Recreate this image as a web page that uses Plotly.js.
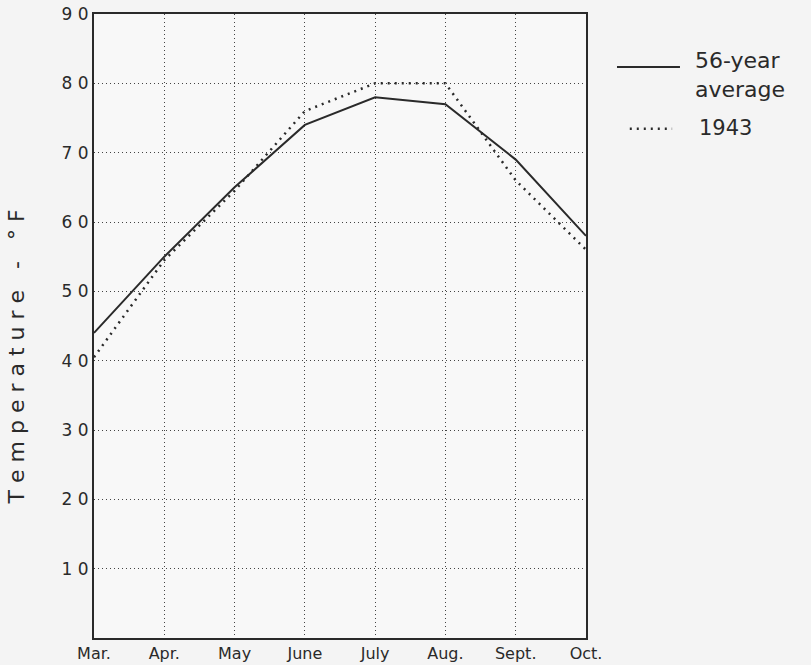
<!DOCTYPE html>
<html>
<head>
<meta charset="utf-8">
<script src="https://cdn.plot.ly/plotly-3.0.1.min.js"></script>
<style>html,body{margin:0;padding:0;background:#f4f4f4;}#chart{width:811px;height:665px;}</style>
</head>
<body>
<div id="chart"></div>
<script>
var months = ["Mar.", "Apr.", "May", "June", "July", "Aug.", "Sept.", "Oct."];
var avg56 = [44, 55, 65, 74, 78, 77, 69, 58];
var y1943 = [40.5, 54.5, 64.5, 76, 80, 80, 66, 56];
var yTicks = [10, 20, 30, 40, 50, 60, 70, 80, 90];
var yTickText = ["1 0", "2 0", "3 0", "4 0", "5 0", "6 0", "7 0", "8 0", "9 0"];
var seriesNames = ["56-year<br>average", "1943"];

var ink = "#2a2a2a";
var font = "DejaVu Sans, Noto Sans, sans-serif";
var dotted = "2px,5px";

var traces = [
  {
    x: months, y: avg56, type: "scatter", mode: "lines",
    name: seriesNames[0], line: {color: ink, width: 2}
  },
  {
    x: months, y: y1943, type: "scatter", mode: "lines",
    name: seriesNames[1], line: {color: ink, width: 2.5, dash: dotted}
  }
];

var layout = {
  width: 811, height: 665,
  margin: {l: 94, r: 225, t: 14, b: 27},
  paper_bgcolor: "#f4f4f4",
  plot_bgcolor: "#f8f8f8",
  font: {family: font, color: ink, size: 16},
  showlegend: false,
  xaxis: {
    type: "category", range: [0, 7],
    showgrid: true, gridcolor: "#444", griddash: "1px,3px", gridwidth: 1,
    showline: true, linecolor: ink, linewidth: 2, mirror: true,
    ticks: "", tickfont: {family: font, size: 16, color: ink},
    zeroline: false, fixedrange: true
  },
  yaxis: {
    range: [0, 90], tickvals: yTicks, ticktext: yTickText,
    showgrid: true, gridcolor: "#444", griddash: "1px,3px", gridwidth: 1,
    showline: true, linecolor: ink, linewidth: 2, mirror: true,
    ticks: "", tickfont: {family: font, size: 17, color: ink},
    zeroline: false, fixedrange: true
  },
  shapes: [
    {type: "line", xref: "paper", yref: "paper", x0: 1.063, x1: 1.191, y0: 0.915, y1: 0.915,
     line: {color: ink, width: 2}},
    {type: "line", xref: "paper", yref: "paper", x0: 1.089, x1: 1.175, y0: 0.816, y1: 0.816,
     line: {color: ink, width: 2.5, dash: dotted}}
  ],
  annotations: [
    {text: "T e m p e r a t u r e   -   ° F", xref: "paper", yref: "paper",
     x: -0.158, y: 0.45, xanchor: "center", yanchor: "middle", textangle: -90, showarrow: false,
     font: {family: font, size: 22, color: ink}},
    {text: seriesNames[0], xref: "paper", yref: "paper", x: 1.217, y: 0.903,
     xanchor: "left", yanchor: "middle", align: "left", showarrow: false,
     font: {family: font, size: 22, color: ink}},
    {text: seriesNames[1], xref: "paper", yref: "paper", x: 1.226, y: 0.817,
     xanchor: "left", yanchor: "middle", align: "left", showarrow: false,
     font: {family: font, size: 21, color: ink}}
  ]
};

Plotly.newPlot("chart", traces, layout, {displayModeBar: false, staticPlot: true});
</script>
</body>
</html>
